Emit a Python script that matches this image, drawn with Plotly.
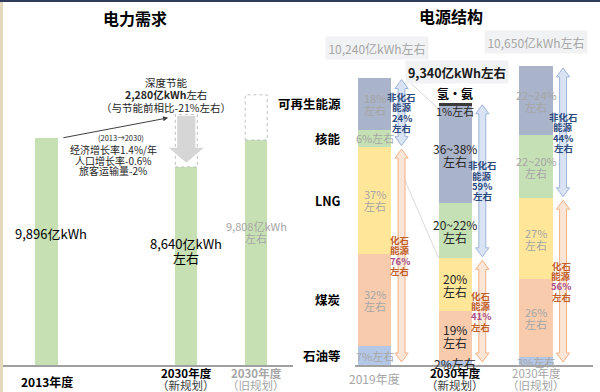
import plotly.graph_objects as go

W, H = 600, 392
FONT = "Noto Sans CJK SC"

# ---------------- data: electricity demand (left) ----------------
demand_years = ["2013年度", "2030年度", "2030年度"]
demand_plans = ["", "（新规划）", "（旧规划）"]
demand_values = [9896, 8640, 9808]          # 亿kWh
demand_savings = [0, 2280, 1961]            # energy-saving amount (dashed part)
demand_value_labels = [["9,896亿kWh"], ["8,640亿kWh", "左右"], ["9,808亿kWh", "左右"]]
saving_note = ["深度节能", "<b>2,280亿kWh</b>左右", "（与节能前相比-21%左右）"]
growth_note = ["经济增长率1.4%/年", "人口增长率-0.6%", "旅客运输量-2%"]
growth_period = "(2013→2030)"

# ---------------- data: power mix (right) ----------------
mix_years = ["2019年度", "2030年度", "2030年度"]
mix_plans = ["", "（新规划）", "（旧规划）"]
mix_totals = [10240, 9340, 10650]           # 亿kWh
mix_total_labels = ["10,240亿kWh左右", "<b>9,340亿kWh左右</b>", "10,650亿kWh左右"]
sources = ["石油等", "煤炭", "LNG", "核能", "可再生能源", "氢・氨"]
is_fossil = [True, True, True, False, False, False]
share_2019 = [7, 32, 37, 6, 18, 0]
share_2030_new = [2, 19, 20, 21, 37, 1]
share_2030_old = [3, 26, 27, 21, 23, 0]
labels_2019 = ["7%左右", "32%|左右", "37%|左右", "6%左右", "18%|左右", ""]
labels_2030_new = ["2%左右", "19%|左右", "20%|左右", "20~22%|左右", "36~38%|左右", "1%左右"]
labels_2030_old = ["3%左右", "26%|左右", "27%|左右", "22~20%|左右", "22~24%|左右", ""]
nonfossil_share = [24, 59, 44]
fossil_share = [76, 41, 56]

# ---------------- style ----------------
source_colors = ["#b4c7e7", "#f8cbad", "#ffe699", "#c5e0b4", "#a9b3c9", "#3a3a3a"]
label_colors = ["#a6a6a6", "#262626", "#a6a6a6"]
label_sizes = [11, 12, 11]
demand_color = "#c6e0b4"

left_pos = [0, 2, 3]
right_pos = [0, 1, 2]
LBW = 0.315   # left bar width
RBW = 0.41    # right bar width

BASE = 366
L_PX_PER_U = 0.02304
R_PX_PER_U = 0.028125


def px(x):
    return x / W


def py(y):
    return 1 - y / H


fig = go.Figure()

fig.add_trace(go.Bar(x=left_pos, y=demand_values, width=LBW, marker_color=demand_color,
                     marker_line_width=0, xaxis="x", yaxis="y", hoverinfo="skip",
                     showlegend=False))

shares = [share_2019, share_2030_new, share_2030_old]
for si, src in enumerate(sources):
    vals = [shares[b][si] / 100 * mix_totals[b] for b in range(3)]
    fig.add_trace(go.Bar(x=right_pos, y=vals, width=RBW, name=src,
                         marker_color=source_colors[si], marker_line_width=0,
                         xaxis="x2", yaxis="y2", hoverinfo="skip", showlegend=False))

ann = []


def add_lines(x, y, lines, xref, yref, size, color, spacing=None, bold=False,
              xanchor="center", colors=None):
    n = len(lines)
    sp = spacing if spacing is not None else size * 1.1
    for i, t in enumerate(lines):
        c = colors[i] if colors else color
        ann.append(dict(x=x, y=y, xref=xref, yref=yref, text=(f"<b>{t}</b>" if bold else t),
                        showarrow=False, xanchor=xanchor, yanchor="middle",
                        yshift=((n - 1) / 2 - i) * sp, borderpad=0,
                        font=dict(family=FONT, size=size, color=c)))


def ptext(x, y, t, size, color="#000", bold=False, xanchor="center", **kw):
    d = dict(x=px(x), y=py(y), xref="paper", yref="paper", text=(f"<b>{t}</b>" if bold else t),
             showarrow=False, xanchor=xanchor, yanchor="middle",
             font=dict(family=FONT, size=size, color=color))
    d.update(kw)
    ann.append(d)


ptext(135, 18, "电力需求", 16, "#000", bold=True)
ptext(451, 16, "电源结构", 16, "#000", bold=True)

shapes = []
shapes.append(dict(type="rect", xref="paper", yref="paper", x0=0, x1=1, y0=py(2), y1=1,
                   fillcolor="#2f3d5a", line_width=0))
shapes.append(dict(type="rect", xref="paper", yref="paper", x0=0, x1=px(3), y0=0, y1=py(2),
                   fillcolor="#e4d9bd", line_width=0))
# baselines
shapes.append(dict(type="line", xref="paper", yref="paper", x0=px(3), x1=px(293),
                   y0=py(BASE), y1=py(BASE), line=dict(color="#a0a0a0", width=2), layer="above"))
shapes.append(dict(type="line", xref="paper", yref="paper", x0=px(355), x1=px(593),
                   y0=py(BASE), y1=py(BASE), line=dict(color="#a0a0a0", width=2), layer="above"))

# ---------- left chart decorations ----------
for i, p in enumerate(left_pos):
    if demand_savings[i] > 0:
        shapes.append(dict(type="rect", xref="x", yref="y", x0=p - LBW / 2, x1=p + LBW / 2,
                           y0=demand_values[i], y1=demand_values[i] + demand_savings[i],
                           line=dict(color="#bfbfbf", width=1, dash="dot"),
                           fillcolor="rgba(0,0,0,0)", layer="above"))

p = left_pos[1]
top = demand_values[1] + demand_savings[1] - 60
tip = demand_values[1] + 180
head_top = tip + 650
sw, hw = 0.13, 0.25
path = (f"M {p - sw},{top} L {p + sw},{top} L {p + sw},{head_top} L {p + hw},{head_top} "
        f"L {p},{tip} L {p - hw},{head_top} L {p - sw},{head_top} Z")
shapes.append(dict(type="path", xref="x", yref="y", path=path, fillcolor="#d6d6d6",
                   line_width=0, layer="above"))

ann.append(dict(x=1.74, y=demand_values[1] + demand_savings[1] - 150, xref="x", yref="y",
                ax=left_pos[0] + 0.22, ay=demand_values[0], axref="x", ayref="y",
                text="", showarrow=True, arrowhead=2, arrowsize=1, arrowwidth=1,
                arrowcolor="#404040"))

add_lines(px(166), py(95), saving_note, "paper", "paper", 10.5, "#262626", spacing=12.5)
ptext(121, 137, growth_period, 7.5, "#262626")
add_lines(px(113), py(160), growth_note, "paper", "paper", 10, "#262626", spacing=10.8)

ptext(13, 233, demand_value_labels[0][0], 13, "#000", xanchor="left")
add_lines(left_pos[1], demand_values[1] * 0.578, demand_value_labels[1], "x", "y", 13, "#000",
          spacing=14)
add_lines(left_pos[2], demand_values[2] * 0.593, demand_value_labels[2], "x", "y", 11, "#a6a6a6",
          spacing=12)

ann.append(dict(x=left_pos[0], y=py(381), xref="x", yref="paper", text=f"<b>{demand_years[0]}</b>",
                showarrow=False, yanchor="middle", font=dict(family=FONT, size=12, color="#000")))
add_lines(left_pos[1], py(379), [f"<b>{demand_years[1]}</b>", demand_plans[1]], "x", "paper", 11.5,
          "#000", spacing=12, colors=["#000", "#404040"])
add_lines(left_pos[2], py(379), [f"<b>{demand_years[2]}</b>", demand_plans[2]], "x", "paper", 11.5,
          "#a6a6a6", spacing=12)

# ---------- right chart decorations ----------
all_labels = [labels_2019, labels_2030_new, labels_2030_old]
for b in range(3):
    cum = 0
    for si in range(len(sources)):
        v = shares[b][si] / 100 * mix_totals[b]
        lab = all_labels[b][si]
        if lab:
            lines = lab.split("|")
            if sources[si] == "氢・氨":
                ann.append(dict(x=right_pos[b], y=cum + v, xref="x2", yref="y2", text=lines[0],
                                showarrow=False, yanchor="middle", yshift=-8,
                                font=dict(family=FONT, size=11, color="#262626")))
                ann.append(dict(x=right_pos[b], y=cum + v, xref="x2", yref="y2",
                                text=f"<b>{sources[si]}</b>", showarrow=False, yanchor="middle",
                                yshift=10, font=dict(family=FONT, size=12, color="#000")))
            else:
                add_lines(right_pos[b], cum + v / 2, lines, "x2", "y2", label_sizes[b],
                          label_colors[b], spacing=label_sizes[b] + 1)
        cum += v

cum = 0
for si in range(5):
    v = share_2019[si] / 100 * mix_totals[0]
    ann.append(dict(x=px(343), y=cum + v / 2, xref="paper", yref="y2",
                    text=f"<b>{sources[si]}</b>", showarrow=False, xanchor="right",
                    yanchor="middle", font=dict(family=FONT, size=12.5, color="#000")))
    cum += v

PXU = 1 / R_PX_PER_U
OFF = 0.335
ASW, AHW, AHL = 0.043, 0.082, 9 * PXU


def dbl_arrow(xc, y_top, y_bot, fill, edge):
    path = (f"M {xc},{y_top} L {xc + AHW},{y_top - AHL} L {xc + ASW},{y_top - AHL} "
            f"L {xc + ASW},{y_bot + AHL} L {xc + AHW},{y_bot + AHL} L {xc},{y_bot} "
            f"L {xc - AHW},{y_bot + AHL} L {xc - ASW},{y_bot + AHL} L {xc - ASW},{y_top - AHL} "
            f"L {xc - AHW},{y_top - AHL} Z")
    shapes.append(dict(type="path", xref="x2", yref="y2", path=path, fillcolor=fill,
                       line=dict(color=edge, width=1), layer="above"))


NF_COL = "#2e4a7d"
F_COL = "#c0602a"
F_PCT = "#a8508a"
for b in range(3):
    xc = right_pos[b] + OFF
    total = mix_totals[b]
    fossil_top = sum(shares[b][si] for si in range(6) if is_fossil[si]) / 100 * total
    nf_top, nf_bot = total - 1.5 * PXU, fossil_top + 1.5 * PXU
    f_top, f_bot = fossil_top - 2 * PXU, 4 * PXU
    dbl_arrow(xc, nf_top, nf_bot, "#dae3f3", "#9fb6dc")
    dbl_arrow(xc, f_top, f_bot, "#fbe5d6", "#f4b183")
    add_lines(xc, (nf_top + nf_bot) / 2, ["非化石", "能源", f"{nonfossil_share[b]}%", "左右"],
              "x2", "y2", 9.5, NF_COL, spacing=10.3, bold=True)
    add_lines(xc - 0.02, (f_top + f_bot) / 2, ["化石", "能源", f"{fossil_share[b]}%", "左右"],
              "x2", "y2", 9.5, F_COL, spacing=10.3, bold=True,
              colors=[F_COL, F_COL, F_PCT, F_COL])

fossil19 = sum(share_2019[si] for si in range(6) if is_fossil[si]) / 100 * mix_totals[0]
fossil30 = sum(share_2030_new[si] for si in range(6) if is_fossil[si]) / 100 * mix_totals[1]
shapes.append(dict(type="line", xref="x2", yref="y2",
                   x0=right_pos[0] + RBW / 2 + 0.1, y0=fossil19 - 700,
                   x1=right_pos[1] - RBW / 2, y1=fossil30,
                   line=dict(color="#d9d9d9", width=1), layer="below"))
shapes.append(dict(type="line", xref="x2", yref="y2",
                   x0=right_pos[0] + RBW / 2 + 0.25, y0=mix_totals[0] - 200,
                   x1=right_pos[1] - RBW / 2, y1=mix_totals[1] - 200,
                   line=dict(color="#d9d9d9", width=1), layer="below"))

box_y = [48, 72, 42]
box_col = ["#a6a6a6", "#1a1a1a", "#a6a6a6"]
box_size = [12, 12.5, 12]
box_dx = [0.03, 0.02, 0.0]
for b in range(3):
    ann.append(dict(x=right_pos[b] + box_dx[b], y=py(box_y[b]), xref="x2", yref="paper",
                    text=mix_total_labels[b], showarrow=False, xanchor="center", yanchor="middle",
                    bgcolor="#f1f2f4", width=102, height=22, borderpad=0,
                    font=dict(family=FONT, size=box_size[b], color=box_col[b])))

ann.append(dict(x=right_pos[0], y=py(378), xref="x2", yref="paper", text=mix_years[0],
                showarrow=False, yanchor="middle", font=dict(family=FONT, size=12, color="#a6a6a6")))
add_lines(right_pos[1], py(378.5), [f"<b>{mix_years[1]}</b>", mix_plans[1]], "x2", "paper", 11.5,
          "#000", spacing=12, colors=["#000", "#404040"])
add_lines(right_pos[2], py(378.5), [mix_years[2], mix_plans[2]], "x2", "paper", 11.5,
          "#a6a6a6", spacing=12)

axis_common = dict(showgrid=False, zeroline=False, showticklabels=False, ticks="", fixedrange=True,
                   showline=False)
fig.update_layout(
    width=W, height=H, autosize=False,
    margin=dict(l=0, r=0, t=0, b=0),
    paper_bgcolor="white", plot_bgcolor="rgba(0,0,0,0)",
    barmode="stack", bargap=0,
    xaxis=dict(domain=[0, 293 / W], range=[-46.5 / 69.9, (293 - 46.5) / 69.9], anchor="y",
               **axis_common),
    yaxis=dict(domain=[(H - BASE) / H, 1], range=[0, BASE / L_PX_PER_U], anchor="x",
               **axis_common),
    xaxis2=dict(domain=[355 / W, 593 / W], range=[(355 - 374.5) / 80.75, (593 - 374.5) / 80.75],
                anchor="y2", **axis_common),
    yaxis2=dict(domain=[(H - BASE) / H, 1], range=[0, BASE / R_PX_PER_U], anchor="x2",
                **axis_common),
    annotations=ann,
    shapes=shapes,
    showlegend=False,
)

fig.write_html("out.html", config={"displayModeBar": False, "staticPlot": True},
               post_script="document.body.style.margin='0';document.body.style.overflow='hidden';")
